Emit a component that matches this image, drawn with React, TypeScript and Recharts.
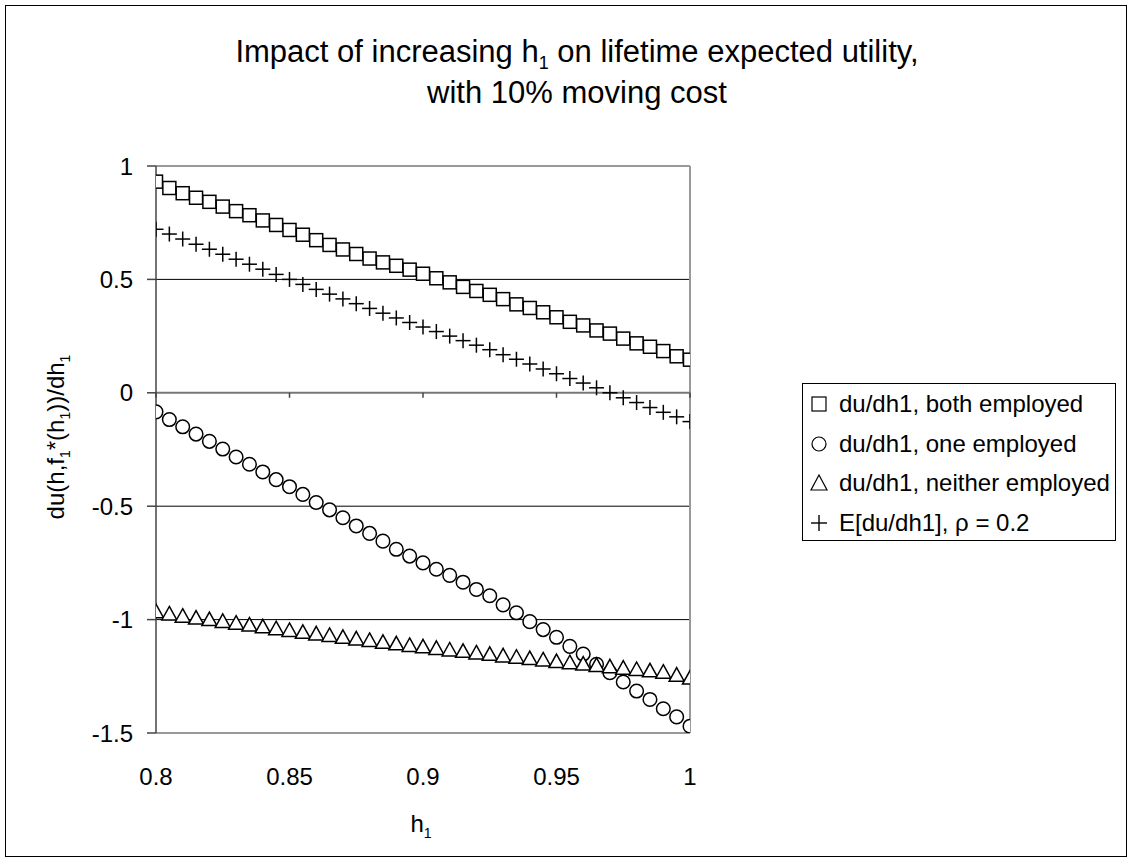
import React from 'react';
import { ScatterChart, Scatter, XAxis, YAxis, ReferenceLine } from 'recharts';

const X_VALUES = [0.8, 0.805, 0.81, 0.815, 0.82, 0.825, 0.83, 0.835, 0.84, 0.845, 0.85, 0.855, 0.86, 0.865, 0.87, 0.875, 0.88, 0.885, 0.89, 0.895, 0.9, 0.905, 0.91, 0.915, 0.92, 0.925, 0.93, 0.935, 0.94, 0.945, 0.95, 0.955, 0.96, 0.965, 0.97, 0.975, 0.98, 0.985, 0.99, 0.995, 1.0];

const BOTH_EMPLOYED = [0.931, 0.903, 0.880, 0.860, 0.842, 0.821, 0.801, 0.783, 0.760, 0.740, 0.718, 0.697, 0.673, 0.652, 0.632, 0.612, 0.592, 0.575, 0.560, 0.543, 0.525, 0.505, 0.487, 0.467, 0.449, 0.432, 0.413, 0.390, 0.374, 0.355, 0.333, 0.313, 0.297, 0.275, 0.261, 0.239, 0.218, 0.203, 0.184, 0.161, 0.146];

const ONE_EMPLOYED = [-0.084, -0.118, -0.150, -0.182, -0.214, -0.248, -0.283, -0.315, -0.349, -0.383, -0.414, -0.448, -0.484, -0.516, -0.551, -0.587, -0.620, -0.654, -0.690, -0.720, -0.750, -0.778, -0.805, -0.835, -0.867, -0.895, -0.935, -0.970, -1.009, -1.044, -1.078, -1.118, -1.152, -1.197, -1.234, -1.275, -1.315, -1.352, -1.393, -1.429, -1.470];

const NEITHER_EMPLOYED = [-0.965, -0.975, -0.985, -0.993, -1.0, -1.008, -1.016, -1.024, -1.032, -1.04, -1.048, -1.056, -1.063, -1.07, -1.078, -1.085, -1.092, -1.1, -1.107, -1.114, -1.12, -1.127, -1.134, -1.14, -1.147, -1.153, -1.16, -1.166, -1.172, -1.178, -1.185, -1.19, -1.196, -1.202, -1.208, -1.214, -1.22, -1.226, -1.232, -1.245, -1.258];

const EXPECTED = [0.721, 0.700, 0.678, 0.655, 0.633, 0.611, 0.589, 0.567, 0.545, 0.522, 0.500, 0.478, 0.456, 0.435, 0.414, 0.393, 0.372, 0.351, 0.330, 0.310, 0.290, 0.270, 0.250, 0.230, 0.210, 0.190, 0.168, 0.148, 0.127, 0.105, 0.084, 0.063, 0.043, 0.022, 0.0, -0.022, -0.043, -0.065, -0.086, -0.106, -0.127];

const X_TICKS = [0.8, 0.85, 0.9, 0.95, 1];
const Y_TICKS = [1, 0.5, 0, -0.5, -1, -1.5];
const GRID_VALUES = [0.5, -0.5, -1];

const SERIES_NAMES = ['du/dh1, both employed', 'du/dh1, one employed', 'du/dh1, neither employed', 'E[du/dh1], \u03c1 = 0.2'];

const FONT = 'Arial, "Liberation Sans", sans-serif';

const toPoints = (ys: number[]) => X_VALUES.map((x, i) => ({ x, y: ys[i] }));

const SquareMarker = (p: any) => (
  <rect x={p.cx - 6.5} y={p.cy - 6.5} width={13} height={13} fill="#fff" stroke="#000" strokeWidth={1.5} />
);
const CircleMarker = (p: any) => (
  <circle cx={p.cx} cy={p.cy} r={6.8} fill="#fff" stroke="#000" strokeWidth={1.5} />
);
const TriangleMarker = (p: any) => (
  <polygon
    points={`${p.cx},${p.cy - 7.5} ${p.cx + 7.5},${p.cy + 6} ${p.cx - 7.5},${p.cy + 6}`}
    fill="#fff"
    stroke="#000"
    strokeWidth={1.5}
  />
);
const PlusMarker = (p: any) => (
  <g stroke="#000" strokeWidth={1.5}>
    <line x1={p.cx - 7.5} y1={p.cy} x2={p.cx + 7.5} y2={p.cy} />
    <line x1={p.cx} y1={p.cy - 7.5} x2={p.cx} y2={p.cy + 7.5} />
  </g>
);

const LegendSymbol = ({ kind }: { kind: number }) => (
  <svg width={20} height={20} style={{ display: 'block', flexShrink: 0 }}>
    {kind === 0 && <rect x={3} y={3} width={14} height={14} fill="#fff" stroke="#000" strokeWidth={1.2} />}
    {kind === 1 && <circle cx={10} cy={10} r={7} fill="#fff" stroke="#000" strokeWidth={1.2} />}
    {kind === 2 && <polygon points="10,2 18,17 2,17" fill="#fff" stroke="#000" strokeWidth={1.2} />}
    {kind === 3 && (
      <g stroke="#000" strokeWidth={1.4}>
        <line x1={2} y1={10} x2={18} y2={10} />
        <line x1={10} y1={2} x2={10} y2={18} />
      </g>
    )}
  </svg>
);

export default function App() {
  return (
    <div style={{ position: 'absolute', left: 0, top: 0, width: 1133, height: 864, background: '#fff', fontFamily: FONT, color: '#000' }}>
      <div style={{ position: 'absolute', left: 5, top: 5, width: 1120, height: 850, border: '1.5px solid #000' }} />
      <div style={{ position: 'absolute', left: 0, top: 31, width: 1154, textAlign: 'center', fontSize: 31, lineHeight: '41px' }}>
        <div>Impact of increasing h<sub style={{ fontSize: 18, lineHeight: 0 }}>1</sub> on lifetime expected utility,</div>
        <div>with 10% moving cost</div>
      </div>
      <div style={{ position: 'absolute', left: 0, top: 0 }}>
        <ScatterChart width={1133} height={864} margin={{ top: 166, right: 443, bottom: 81, left: 96 }}>
          <XAxis
            type="number"
            dataKey="x"
            domain={[0.8, 1]}
            ticks={X_TICKS}
            height={50}
            axisLine={false}
            tickLine={false}
            tickSize={0}
            tickMargin={35}
            tick={{ fill: '#000', fontSize: 24, fontFamily: FONT }}
            allowDataOverflow
          />
          <YAxis
            type="number"
            dataKey="y"
            domain={[-1.5, 1]}
            ticks={Y_TICKS}
            width={60}
            tickSize={9}
            tickMargin={14}
            axisLine={{ stroke: '#444', strokeWidth: 1.5 }}
            tickLine={{ stroke: '#444', strokeWidth: 1.5 }}
            tick={{ fill: '#000', fontSize: 24, fontFamily: FONT }}
            allowDataOverflow
          />
          {GRID_VALUES.map((v) => (
            <ReferenceLine key={'g' + v} y={v} stroke="#000" strokeWidth={1} />
          ))}
          <ReferenceLine y={Y_TICKS[0]} stroke="#999" strokeWidth={2} />
          <ReferenceLine y={Y_TICKS[Y_TICKS.length - 1]} stroke="#999" strokeWidth={2} />
          <ReferenceLine x={X_TICKS[X_TICKS.length - 1]} stroke="#999" strokeWidth={2} />
          <ReferenceLine y={0} stroke="#777" strokeWidth={2} />
          {X_TICKS.map((t) => (
            <ReferenceLine key={'t' + t} segment={[{ x: t, y: 0 }, { x: t, y: -0.022 }]} stroke="#444" strokeWidth={1.5} />
          ))}
          <Scatter name={SERIES_NAMES[0]} data={toPoints(BOTH_EMPLOYED)} shape={SquareMarker} isAnimationActive={false} />
          <Scatter name={SERIES_NAMES[1]} data={toPoints(ONE_EMPLOYED)} shape={CircleMarker} isAnimationActive={false} />
          <Scatter name={SERIES_NAMES[2]} data={toPoints(NEITHER_EMPLOYED)} shape={TriangleMarker} isAnimationActive={false} />
          <Scatter name={SERIES_NAMES[3]} data={toPoints(EXPECTED)} shape={PlusMarker} isAnimationActive={false} />
        </ScatterChart>
      </div>
      <div
        style={{
          position: 'absolute',
          left: 56,
          top: 437,
          transform: 'translate(-50%, -50%) rotate(-90deg)',
          whiteSpace: 'nowrap',
          fontSize: 24,
          lineHeight: '28px',
        }}
      >
        du(h,f<sub style={{ fontSize: 14, lineHeight: 0 }}>1</sub>*(h<sub style={{ fontSize: 14, lineHeight: 0 }}>1</sub>))/dh<sub style={{ fontSize: 14, lineHeight: 0 }}>1</sub>
      </div>
      <div style={{ position: 'absolute', left: 421, top: 824, transform: 'translate(-50%, -50%)', fontSize: 24, lineHeight: '28px', whiteSpace: 'nowrap' }}>
        h<sub style={{ fontSize: 14, lineHeight: 0 }}>1</sub>
      </div>
      <div
        style={{
          position: 'absolute',
          left: 802,
          top: 383,
          width: 314,
          height: 158,
          border: '1px solid #000',
          boxSizing: 'border-box',
          fontSize: 24,
          paddingTop: 0.5,
        }}
      >
        {SERIES_NAMES.map((name, i) => (
          <div key={name} style={{ display: 'flex', alignItems: 'center', height: 39.5, paddingLeft: 6, whiteSpace: 'nowrap' }}>
            <LegendSymbol kind={i} />
            <span style={{ marginLeft: 10 }}>{name}</span>
          </div>
        ))}
      </div>
    </div>
  );
}
